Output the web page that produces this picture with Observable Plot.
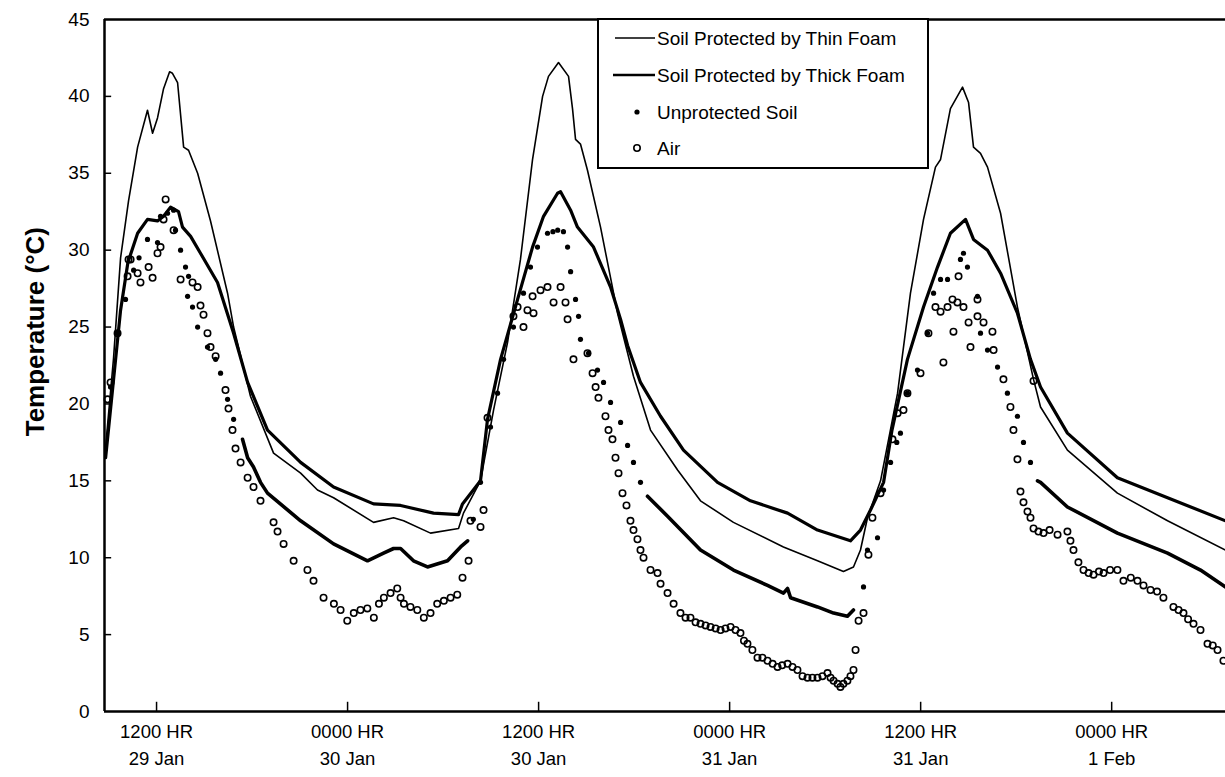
<!DOCTYPE html>
<html>
<head>
<meta charset="utf-8">
<script src="https://cdn.jsdelivr.net/npm/d3@7"></script>
<script src="https://cdn.jsdelivr.net/npm/@observablehq/plot@0.6"></script>
<style>
  html, body { margin: 0; padding: 0; background: #fff; }
  #wrap { position: relative; width: 1225px; height: 777px; font-family: "Liberation Sans", Arial, sans-serif; }
  #legend { position: absolute; left: 597px; top: 18px; }
</style>
</head>
<body>
<div id="wrap"><div id="chart"></div><div id="legend"></div></div>
<script>
// hours since 29 Jan 00:00, temperature °C
const xTickHours = [12, 24, 36, 48, 60, 72];
const xTickTime = ["1200 HR", "0000 HR", "1200 HR", "0000 HR", "1200 HR", "0000 HR"];
const xTickDay = ["29 Jan", "30 Jan", "30 Jan", "31 Jan", "31 Jan", "1 Feb"];
const yTicks = [0, 5, 10, 15, 20, 25, 30, 35, 40, 45];
const seriesNames = ["Soil Protected by Thin Foam", "Soil Protected by Thick Foam", "Unprotected Soil", "Air"];
const yTitle = "Temperature (°C)";

const thinFoam = [
[8.80,17.2],[9.30,23.0],[9.74,29.5],[10.24,33.2],[10.81,36.7],[11.43,39.1],[11.75,37.6],[12.06,38.6],[12.44,40.5],[12.82,41.6],[13.00,41.5],[13.32,40.9],[13.70,36.7],[14.01,36.5],[14.58,35.0],[15.39,31.9],[16.46,27.2],[16.84,25.0],[17.90,20.5],[19.35,16.8],[21.05,15.5],[22.11,14.4],[23.12,13.9],[25.63,12.3],[26.89,12.6],[27.52,12.4],[29.21,11.6],[30.97,11.9],[31.28,12.9],[32.35,15.0],[33.17,19.6],[34.05,24.0],[34.86,29.4],[35.62,35.9],[36.25,40.0],[36.62,41.3],[37.25,42.2],[37.88,41.3],[38.13,39.2],[38.32,37.2],[38.63,36.9],[39.07,35.2],[39.89,31.5],[40.96,25.9],[41.96,21.8],[43.03,18.3],[44.73,15.7],[46.17,13.7],[48.24,12.3],[51.38,10.7],[53.52,9.8],[55.15,9.1],[55.78,9.4],[56.22,10.5],[56.66,12.6],[57.48,15.0],[58.55,20.7],[59.36,27.2],[60.18,32.0],[60.93,35.4],[61.25,35.9],[61.87,39.2],[62.63,40.6],[63.01,39.6],[63.32,36.7],[63.76,36.3],[64.20,35.4],[65.02,32.4],[66.08,26.3],[67.09,21.6],[67.53,19.8],[69.22,17.0],[72.36,14.2],[75.51,12.4],[79.15,10.5]
];

const thickFoam = [
[8.80,16.5],[9.30,21.6],[9.74,26.1],[10.20,29.2],[10.81,31.1],[11.43,32.0],[12.06,31.9],[12.44,32.2],[12.88,32.8],[13.38,32.5],[13.63,31.5],[14.14,30.9],[14.76,29.8],[15.83,27.9],[16.84,24.6],[17.72,21.4],[18.97,18.3],[21.05,16.2],[23.12,14.6],[25.63,13.5],[27.33,13.4],[29.40,12.9],[30.97,12.8],[31.22,13.5],[32.35,15.0],[32.79,19.0],[33.61,22.9],[34.68,26.8],[35.62,30.2],[36.31,32.2],[37.19,33.7],[37.38,33.8],[38.01,32.6],[38.44,31.5],[39.45,30.2],[40.52,27.6],[41.15,25.5],[41.59,23.8],[42.40,21.4],[43.66,19.2],[45.10,17.0],[47.24,14.9],[49.31,13.7],[51.64,12.9],[53.52,11.8],[55.59,11.1],[56.22,11.8],[56.85,13.1],[57.67,14.9],[58.20,18.3],[59.17,22.9],[60.18,26.3],[61.06,28.9],[61.87,31.1],[62.82,32.0],[63.32,30.7],[64.20,30.0],[65.02,28.5],[66.08,25.9],[66.90,22.9],[67.53,21.1],[69.22,18.1],[72.36,15.2],[75.51,13.9],[79.15,12.4]
];

// unprotected soil: dense night-time readings (they merge into a solid trace)
const soilNight1 = [[17.40,17.7],[17.72,16.5],[18.09,15.9],[18.53,14.9],[18.97,14.2],[21.05,12.4],[23.12,10.9],[25.25,9.8],[26.26,10.3],[26.89,10.6],[27.33,10.6],[28.14,9.8],[29.02,9.4],[30.28,9.8],[31.10,10.7],[31.54,11.1]];
const soilNight2 = [[42.84,14.0],[44.10,12.7],[46.17,10.5],[48.24,9.2],[50.38,8.2],[51.38,7.7],[51.64,8.0],[51.83,7.4],[53.52,6.8],[54.53,6.4],[55.40,6.2],[55.78,6.6]];
const soilNight3 = [[67.34,15.0],[67.53,14.9],[69.22,13.3],[72.36,11.6],[75.51,10.3],[77.58,9.2],[79.15,8.1]];
// unprotected soil: separate daytime readings
const soilDots = [
[9.11,21.1],[9.55,24.6],[10.05,26.8],[10.56,28.7],[10.90,29.5],[11.43,30.7],[12.06,30.5],[12.25,32.2],[12.69,32.4],[13.07,32.6],[13.19,31.3],[13.51,30.0],[13.82,28.9],[13.95,27.0],[14.01,28.3],[14.26,26.3],[14.58,25.0],[15.20,23.7],[15.71,22.9],[16.02,22.0],[16.46,20.3],[16.84,19.0],
[31.90,12.5],[32.35,14.9],[32.98,18.5],[33.42,20.7],[33.80,22.9],[34.42,25.0],[35.05,27.2],[35.49,28.9],[35.93,30.2],[36.56,31.1],[36.90,31.2],[37.20,31.3],[37.56,31.2],[37.82,30.2],[38.01,28.6],[38.32,26.8],[38.51,25.7],[38.63,24.2],[39.14,23.3],[39.70,22.2],[40.08,21.4],[40.52,20.1],[41.15,18.8],[41.59,17.3],[41.96,16.2],[42.40,14.9],
[56.41,8.1],[56.66,10.5],[57.29,11.3],[57.67,14.4],[58.11,16.2],[58.50,17.5],[58.73,18.1],[59.17,20.7],[59.80,22.2],[60.43,24.6],[60.81,27.2],[61.25,28.1],[61.69,28.1],[62.50,29.4],[62.69,29.8],[62.94,28.9],[63.57,27.0],[63.76,24.6],[64.20,23.5],[64.83,22.4],[65.45,20.7],[66.08,19.2],[66.46,17.5],[66.90,16.2]
];

const air = [
[8.92,20.3],[9.11,21.4],[9.55,24.6],[10.18,28.3],[10.24,29.4],[10.37,29.4],[10.81,28.5],[10.99,27.9],[11.50,28.9],[11.75,28.2],[12.06,29.8],[12.25,30.2],[12.44,32.0],[12.57,33.3],[13.07,31.3],[13.51,28.1],[14.26,27.9],[14.58,27.6],[14.76,26.4],[14.95,25.8],[15.20,24.6],[15.39,23.7],[15.71,23.1],[16.33,20.9],[16.52,19.7],[16.77,18.3],[16.96,17.1],[17.28,16.2],[17.72,15.2],[18.09,14.6],[18.53,13.7],[19.35,12.3],[19.60,11.7],[19.98,10.9],[20.61,9.8],[21.48,9.2],[21.86,8.5],[22.49,7.4],[23.14,7.0],[23.56,6.6],[23.98,5.9],[24.39,6.4],[24.81,6.6],[25.24,6.7],[25.65,6.1],[25.97,7.0],[26.28,7.4],[26.70,7.7],[27.12,8.0],[27.33,7.4],[27.54,7.0],[27.95,6.8],[28.38,6.6],[28.79,6.1],[29.21,6.4],[29.63,7.0],[30.05,7.2],[30.47,7.4],[30.89,7.6],[31.22,8.7],[31.60,9.8],[31.72,12.4],[32.35,12.0],[32.54,13.1],[32.79,19.1],
[34.42,25.7],[34.68,26.3],[35.05,25.0],[35.30,26.1],[35.62,27.0],[35.68,25.9],[36.12,27.4],[36.56,27.6],[36.94,26.6],[37.38,27.6],[37.69,26.6],[37.82,25.5],[38.19,22.9],[39.07,23.3],[39.39,22.0],[39.58,21.1],[39.76,20.4],[40.20,19.2],[40.39,18.3],[40.64,17.7],[40.83,16.5],[41.02,15.5],[41.27,14.2],[41.52,13.4],[41.77,12.4],[41.96,11.8],[42.21,11.2],[42.40,10.5],[42.59,10.0],[43.03,9.2],[43.47,9.0],[43.66,8.3],[44.10,7.7],[44.48,7.0],[44.91,6.4],[45.23,6.1],[45.54,6.1],[45.86,5.8],[46.17,5.7],[46.49,5.6],[46.80,5.5],[47.12,5.4],[47.43,5.3],[47.74,5.4],[48.06,5.5],[48.37,5.3],[48.68,5.1],[48.90,4.6],[49.12,4.4],[49.43,4.0],[49.75,3.5],[50.06,3.5],[50.38,3.3],[50.70,3.1],[51.01,2.9],[51.30,3.0],[51.64,3.1],[51.95,2.9],[52.26,2.7],[52.58,2.3],[52.89,2.2],[53.20,2.2],[53.52,2.2],[53.83,2.3],[54.15,2.5],[54.34,2.2],[54.53,2.0],[54.78,1.8],[54.96,1.6],[55.15,1.8],[55.40,2.0],[55.59,2.3],[55.78,2.7],[55.91,4.0],[56.10,5.9],[56.41,6.4],[56.72,10.2],[56.97,12.6],[57.48,14.2],[58.23,17.7],[58.55,19.4],[58.92,19.6],
[59.17,20.7],[59.99,22.0],[60.49,24.6],[60.93,26.3],[61.25,26.0],[61.43,22.7],[61.69,26.3],[62.00,26.8],[62.06,24.7],[62.31,26.6],[62.38,28.3],[62.69,26.3],[63.01,25.3],[63.13,23.7],[63.57,25.7],[63.57,26.8],[63.95,25.3],[64.51,24.7],[64.58,23.5],[65.20,21.6],[65.64,19.8],[65.83,18.3],[66.08,16.4],[66.27,14.3],[66.46,13.6],[66.71,13.0],[66.90,12.6],[67.09,11.9],[67.09,21.5],[67.40,11.7],[67.72,11.6],[68.10,11.8],[68.60,11.5],[69.22,11.7],[69.41,11.1],[69.60,10.5],[69.91,9.7],[70.23,9.2],[70.55,9.0],[70.86,8.9],[71.20,9.1],[71.49,9.0],[71.90,9.2],[72.36,9.2],[72.74,8.5],[73.20,8.7],[73.62,8.5],[74.00,8.2],[74.44,7.9],[74.85,7.8],[75.25,7.4],[75.88,6.8],[76.20,6.6],[76.51,6.4],[76.80,6.0],[77.14,5.7],[77.58,5.3],[78.02,4.4],[78.35,4.3],[78.65,4.0],[79.02,3.3]
];

const xMin = 8.73, xMax = 79.15;
const font = '"Liberation Sans", Arial, sans-serif';
const X = d => d[0], Y = d => d[1];

const chart = Plot.plot({
  width: 1225,
  height: 777,
  marginLeft: 104,
  marginRight: 0,
  marginTop: 19,
  marginBottom: 66,
  x: {domain: [xMin, xMax], axis: null},
  y: {domain: [0, 45], axis: null},
  style: {fontFamily: font, color: "#000", background: "#fff", overflow: "visible"},
  marks: [
    // frame
    Plot.ruleX([xMin], {stroke: "#000", strokeWidth: 2.5}),
    Plot.ruleY([0, 45], {stroke: "#000", strokeWidth: 2.5}),
    // inward ticks
    Plot.ruleY(yTicks.slice(1, -1), {y: d => d, x1: xMin, x2: xMin + 0.45, stroke: "#000", strokeWidth: 1.5}),
    Plot.ruleX(xTickHours, {x: d => d, y1: 0, y2: 0.6, stroke: "#000", strokeWidth: 1.5}),
    // data
    Plot.line(thinFoam, {x: X, y: Y, stroke: "#000", strokeWidth: 1.6}),
    Plot.line(thickFoam, {x: X, y: Y, stroke: "#000", strokeWidth: 3.2}),
    Plot.line(soilNight1, {x: X, y: Y, stroke: "#000", strokeWidth: 3.6}),
    Plot.line(soilNight2, {x: X, y: Y, stroke: "#000", strokeWidth: 3.6}),
    Plot.line(soilNight3, {x: X, y: Y, stroke: "#000", strokeWidth: 3.6}),
    Plot.dot(soilDots, {x: X, y: Y, r: 2.6, fill: "#000", stroke: "none"}),
    Plot.dot(air, {x: X, y: Y, r: 3.2, fill: "none", stroke: "#000", strokeWidth: 1.6}),
    // tick labels
    Plot.text(yTicks, {x: xMin, y: d => d, text: d => String(d), dx: -15, textAnchor: "end", fontSize: 19, fill: "#000"}),
    Plot.text(xTickHours, {x: d => d, y: 0, text: (d, i) => xTickTime[i], dy: 21, fontSize: 18.5, fill: "#000"}),
    Plot.text(xTickHours, {x: d => d, y: 0, text: (d, i) => xTickDay[i], dy: 48, fontSize: 18.5, fill: "#000"}),
    // axis title
    Plot.text([yTitle], {x: xMin, y: 24.7, text: d => d, rotate: -90, textAnchor: "middle", dx: -69, fontSize: 26, fontWeight: "bold", fill: "#000"})
  ]
});
document.getElementById("chart").appendChild(chart);

// legend (box inside plot, top centre)
const lg = d3.select("#legend").append("svg").attr("width", 332).attr("height", 152)
  .style("font-family", font);
lg.append("rect").attr("x", 1).attr("y", 1).attr("width", 330).attr("height", 149)
  .attr("fill", "#fff").attr("stroke", "#000").attr("stroke-width", 2);
const rowY = [20, 57, 94, 130];
seriesNames.forEach((name, i) => {
  const y = rowY[i];
  if (i === 0) lg.append("line").attr("x1", 18).attr("x2", 58).attr("y1", y).attr("y2", y).attr("stroke", "#000").attr("stroke-width", 1.4);
  if (i === 1) lg.append("line").attr("x1", 16).attr("x2", 58).attr("y1", y).attr("y2", y).attr("stroke", "#000").attr("stroke-width", 2.6);
  if (i === 2) lg.append("circle").attr("cx", 40).attr("cy", y).attr("r", 2.6).attr("fill", "#000");
  if (i === 3) lg.append("circle").attr("cx", 40).attr("cy", y).attr("r", 3.2).attr("fill", "none").attr("stroke", "#000").attr("stroke-width", 1.6);
  lg.append("text").attr("x", 60).attr("y", y).attr("dy", "0.35em").attr("font-size", 19).attr("fill", "#000").text(name);
});
</script>
</body>
</html>
